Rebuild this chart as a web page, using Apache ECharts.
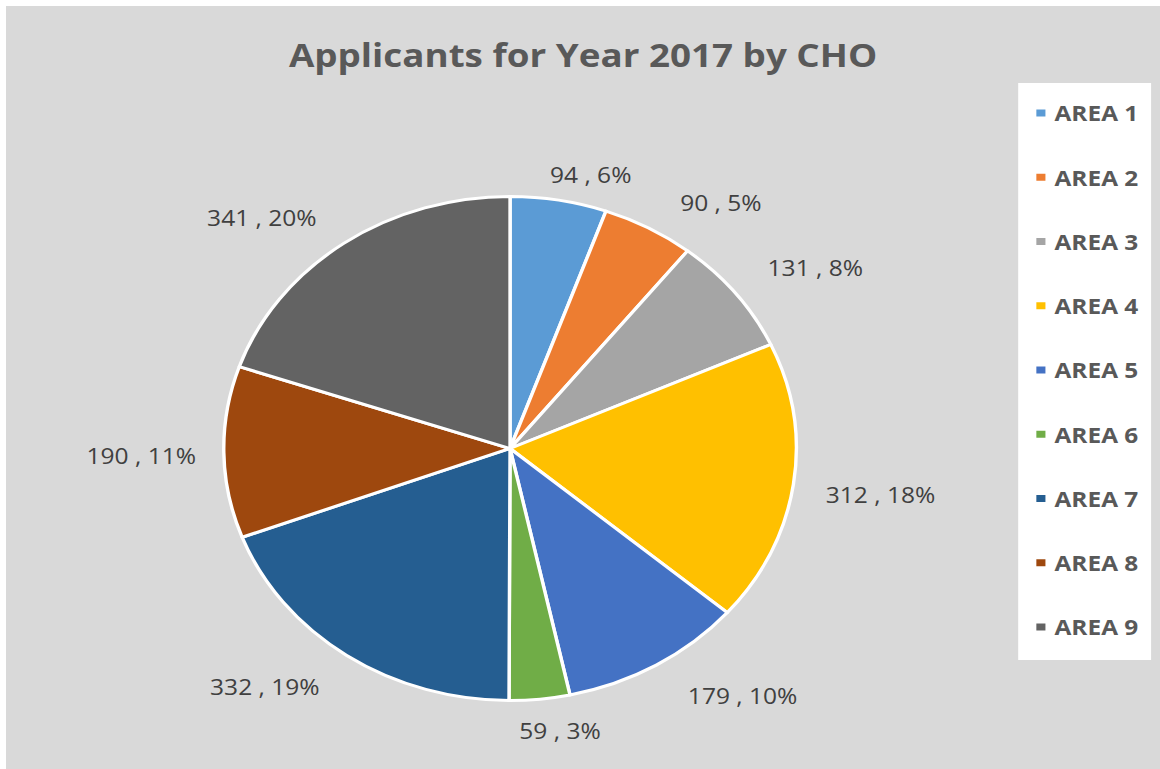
<!DOCTYPE html>
<html>
<head>
<meta charset="utf-8">
<script src="https://cdn.jsdelivr.net/npm/echarts@6/dist/echarts.min.js"></script>
<style>
  html, body { margin: 0; padding: 0; background: #ffffff; width: 1160px; height: 769px; overflow: hidden; }
  #chart { position: absolute; left: 6px; top: 6px; width: 1016px; height: 763px; transform: scaleX(1.136); transform-origin: 0 0; }
</style>
</head>
<body>
<div id="chart"></div>
<script>
// ---- data ----
const categories = ['AREA 1', 'AREA 2', 'AREA 3', 'AREA 4', 'AREA 5', 'AREA 6', 'AREA 7', 'AREA 8', 'AREA 9'];
const values = [94, 90, 131, 312, 179, 59, 332, 190, 341];
const titleText = 'Applicants for Year 2017 by CHO';

// ---- styling ----
const palette = ['#5b9bd5', '#ed7d31', '#a5a5a5', '#ffc000', '#4472c4', '#70ad47', '#255e91', '#9e480e', '#636363'];
const CX = 443.7, CY = 442.5, R = 252;

const total = values.reduce((a, b) => a + b, 0);

const chart = echarts.init(document.getElementById('chart'), null, { renderer: 'svg' });

chart.setOption({
  backgroundColor: '#d9d9d9',
  animation: false,
  title: {
    text: titleText,
    left: 'center',
    top: 28,
    padding: 0,
    textStyle: {
      fontFamily: 'Open Sans',
      fontWeight: 'bold',
      fontSize: 32.4,
      lineHeight: 40,
      color: '#595959'
    }
  },
  graphic: [{
    type: 'rect',
    z: 1,
    shape: { x: 891, y: 77, width: 117, height: 577 },
    style: { fill: '#ffffff' }
  }],
  legend: {
    orient: 'vertical',
    left: 905,
    top: 95,
    padding: 0,
    z: 5,
    itemWidth: 10,
    itemHeight: 9,
    itemGap: 40.25,
    icon: 'rect',
    data: categories,
    textStyle: {
      fontFamily: 'Open Sans',
      fontWeight: 'bold',
      fontSize: 21.5,
      lineHeight: 24,
      color: '#595959',
      padding: [0, 0, 0, 2]
    }
  },
  series: [{
    type: 'pie',
    center: [CX, CY],
    radius: [0, R],
    startAngle: 90,
    clockwise: true,
    percentPrecision: 0,
    avoidLabelOverlap: false,
    silent: true,
    itemStyle: { borderColor: '#ffffff', borderWidth: 3 },
    label: {
      show: true,
      position: 'outside',
      fontFamily: 'Open Sans',
      fontSize: 21.6,
      color: '#404040',
      formatter: p => p.value + ' , ' + p.percent + '%'
    },
    labelLine: { show: false },
    labelLayout: function (params) {
      const i = params.dataIndex;
      let cum = 0;
      for (let j = 0; j < i; j++) cum += values[j];
      const mid = (cum + values[i] / 2) / total * Math.PI * 2;
      const s = Math.sin(mid), c = Math.cos(mid);
      const edge = R + 1.5;
      const hw = params.labelRect.width / 2;
      const ox = Math.sign(s) * Math.min(1, 2.5 * Math.abs(s)) * (hw + 25) + 2;
      const oy = -Math.sign(c) * Math.min(1, 2 * Math.abs(c)) * 27 + 2.5;
      return {
        x: CX + edge * s + ox,
        y: CY - edge * c + oy,
        align: 'center',
        verticalAlign: 'middle'
      };
    },
    data: categories.map((name, i) => ({
      name: name,
      value: values[i],
      itemStyle: { color: palette[i] }
    }))
  }]
});
</script>
</body>
</html>
